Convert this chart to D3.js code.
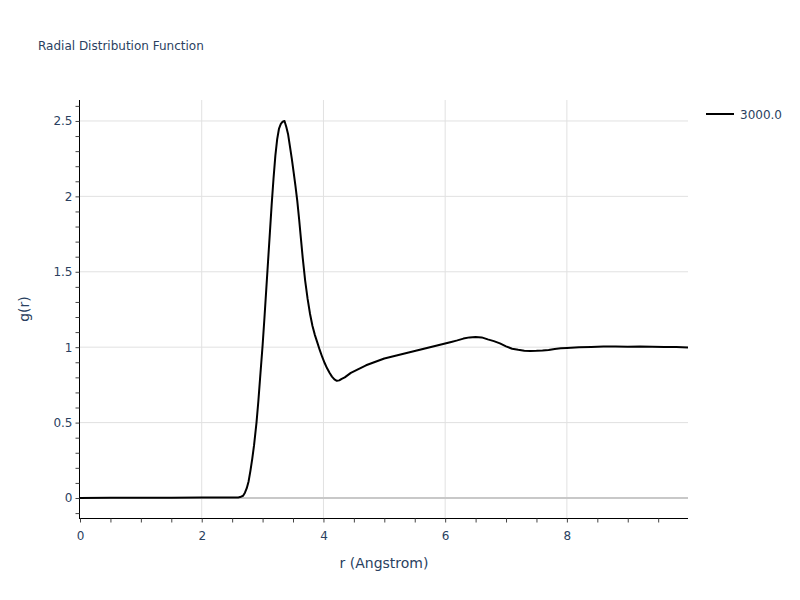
<!DOCTYPE html>
<html>
<head>
<meta charset="utf-8">
<script src="https://cdn.jsdelivr.net/npm/d3@7"></script>
<style>
  body { margin: 0; background: #fff; }
  text { font-family: "DejaVu Sans", Verdana, sans-serif; fill: #2a3f5f; }
</style>
</head>
<body>
<div class="container"></div>
<script>
// g(r)
var rValues = [0, 0.5, 1.0, 1.5, 2.0, 2.3, 2.5, 2.6, 2.63, 2.68, 2.71, 2.74, 2.77, 2.80, 2.83, 2.86,
  2.90, 2.93, 2.96, 3.00, 3.03, 3.06, 3.09, 3.12, 3.15, 3.18, 3.21, 3.24, 3.27, 3.30, 3.33, 3.36,
  3.39, 3.42, 3.45, 3.48, 3.51, 3.54, 3.57, 3.60, 3.63, 3.66, 3.70, 3.74, 3.78, 3.82, 3.86, 3.90,
  3.94, 3.98, 4.02, 4.06, 4.10, 4.14, 4.18, 4.22, 4.26, 4.30, 4.35, 4.40, 4.45, 4.50, 4.60, 4.70,
  4.80, 4.90, 5.00, 5.10, 5.20, 5.30, 5.40, 5.50, 5.60, 5.70, 5.80, 5.90, 6.00, 6.10, 6.20, 6.30,
  6.40, 6.50, 6.60, 6.70, 6.80, 6.90, 7.00, 7.10, 7.20, 7.30, 7.40, 7.50, 7.60, 7.70, 7.80, 7.90,
  8.00, 8.20, 8.40, 8.60, 8.80, 9.00, 9.20, 9.40, 9.60, 9.80, 9.99];
var gValues = [0, 0.001, 0.001, 0.001, 0.003, 0.003, 0.003, 0.004, 0.006, 0.015, 0.035, 0.065, 0.11, 0.18, 0.26, 0.35,
  0.50, 0.64, 0.80, 1.01, 1.19, 1.38, 1.57, 1.76, 1.95, 2.12, 2.27, 2.38, 2.45, 2.48, 2.495, 2.50,
  2.46, 2.41, 2.33, 2.25, 2.16, 2.07, 1.97, 1.85, 1.72, 1.59, 1.44, 1.32, 1.22, 1.14, 1.08, 1.03,
  0.98, 0.935, 0.895, 0.86, 0.83, 0.805, 0.787, 0.777, 0.78, 0.79, 0.80, 0.815, 0.83, 0.84, 0.86, 0.88,
  0.895, 0.91, 0.925, 0.935, 0.945, 0.955, 0.965, 0.975, 0.985, 0.995, 1.005, 1.015, 1.025, 1.035, 1.045, 1.057,
  1.065, 1.068, 1.065, 1.052, 1.04, 1.025, 1.005, 0.99, 0.983, 0.977, 0.975, 0.976, 0.978, 0.982, 0.988, 0.993,
  0.995, 0.999, 1.002, 1.004, 1.004, 1.003, 1.004, 1.003, 1.002, 1.001, 0.998];
var seriesName = "3000.0";
var xTicks = [0, 2, 4, 6, 8];
var yTicks = [0, 0.5, 1, 1.5, 2, 2.5];

var opts = {width: 800, height: 600, left: 80, right: 688, top: 100, bottom: 518};

var points = rValues.map(function(r, i){ return {r: r, g: gValues[i]}; });

var x = d3.scaleLinear().domain([0, 9.99]).range([opts.left, opts.right]);
var y = d3.scaleLinear().domain([-0.1326, 2.639]).range([opts.bottom, opts.top]);

var svg = d3.select(".container")
    .append("svg")
    .attr("width", opts.width)
    .attr("height", opts.height);

// grid
svg.append("g").selectAll("line")
    .data(xTicks.filter(function(d){ return d !== 0; }))
  .enter().append("line")
    .attr("x1", function(d){ return x(d); })
    .attr("x2", function(d){ return x(d); })
    .attr("y1", opts.top).attr("y2", opts.bottom)
    .attr("stroke", "#e1e1e1").attr("stroke-width", 1);

svg.append("g").selectAll("line")
    .data(yTicks.filter(function(d){ return d !== 0; }))
  .enter().append("line")
    .attr("x1", opts.left).attr("x2", opts.right)
    .attr("y1", function(d){ return y(d); })
    .attr("y2", function(d){ return y(d); })
    .attr("stroke", "#e1e1e1").attr("stroke-width", 1);

// zero line
svg.append("line")
    .attr("x1", opts.left).attr("x2", opts.right)
    .attr("y1", y(0)).attr("y2", y(0))
    .attr("stroke", "#c8c8c8").attr("stroke-width", 2);

// the curve
var line = d3.line()
    .x(function(d){ return x(d.r); })
    .y(function(d){ return y(d.g); });

svg.append("path")
    .datum(points)
    .attr("fill", "none")
    .attr("stroke", "#000")
    .attr("stroke-width", 2)
    .attr("stroke-linejoin", "round")
    .attr("d", line);

// axes
var xAxis = d3.axisBottom(x)
    .tickValues(d3.range(0, 10, 0.5))
    .tickSize(4)
    .tickFormat(function(d){ return xTicks.indexOf(d) >= 0 ? d3.format("d")(d) : ""; });

var gx = svg.append("g")
    .attr("transform", "translate(0," + (opts.bottom + 0.5) + ")")
    .call(xAxis);
gx.select(".domain").attr("d", "M" + (opts.left - 1) + ",0H" + opts.right).attr("stroke", "#000");
gx.selectAll(".tick line").attr("stroke", "#444");
gx.selectAll(".tick text").attr("font-size", 12).attr("dy", "1.2em").style("fill", "#2a3f5f");

var yAxis = d3.axisLeft(y)
    .tickValues(d3.range(-1, 27).map(function(d){ return d / 10; }))
    .tickSize(4)
    .tickFormat(function(d){
      var v = Math.round(d * 10) / 10;
      return yTicks.indexOf(v) >= 0 ? d3.format("")(v) : "";
    });

var gy = svg.append("g")
    .attr("transform", "translate(" + (opts.left - 0.5) + ",0)")
    .call(yAxis);
gy.select(".domain").attr("d", "M0," + opts.top + "V" + (opts.bottom + 1)).attr("stroke", "#000");
gy.selectAll(".tick line").attr("stroke", "#444");
gy.selectAll(".tick text").attr("font-size", 12).attr("x", -7).style("fill", "#2a3f5f");

// titles
svg.append("text")
    .attr("x", 38).attr("y", 50)
    .attr("font-size", 12)
    .text("Radial Distribution Function");

svg.append("text")
    .attr("x", (opts.left + opts.right) / 2).attr("y", 568)
    .attr("text-anchor", "middle")
    .attr("font-size", 14)
    .text("r (Angstrom)");

svg.append("text")
    .attr("transform", "translate(29," + ((opts.top + opts.bottom) / 2) + ") rotate(-90)")
    .attr("text-anchor", "middle")
    .attr("font-size", 14)
    .text("g(r)");

// legend
var legend = svg.append("g").attr("transform", "translate(706,114)");
legend.append("line")
    .attr("x1", 0).attr("x2", 28)
    .attr("stroke", "#000").attr("stroke-width", 2);
legend.append("text")
    .attr("x", 34).attr("y", 4.5)
    .attr("font-size", 12)
    .text(seriesName);
</script>
</body>
</html>
